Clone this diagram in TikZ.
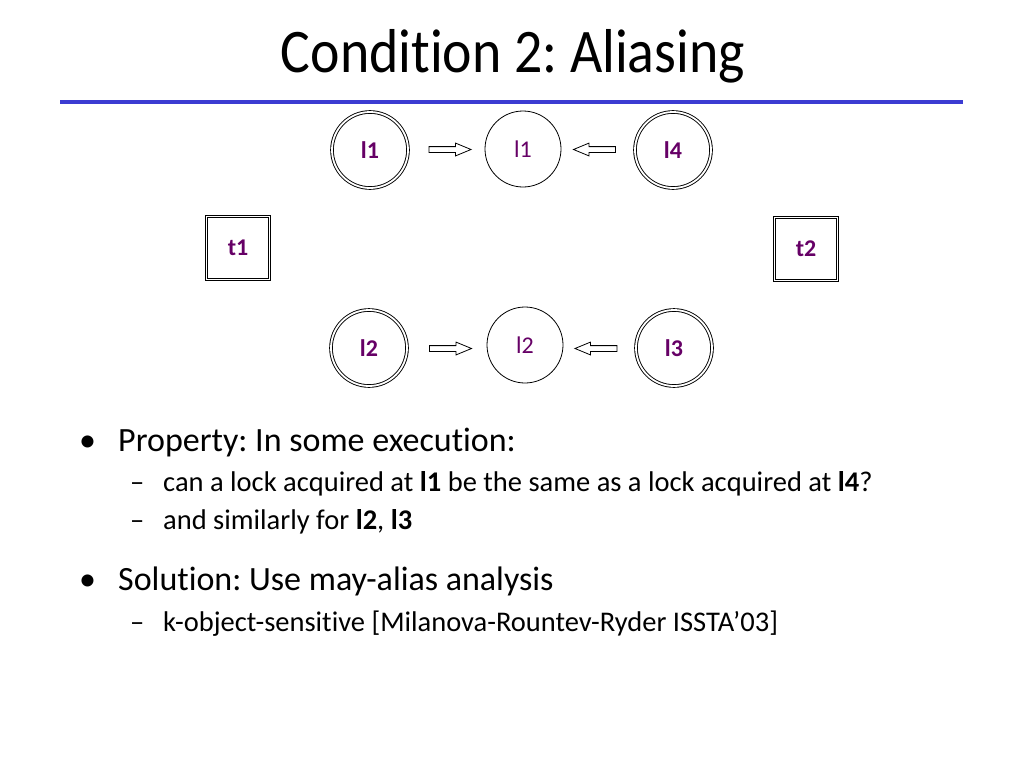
\documentclass[tikz,border=0pt]{standalone}
\usepackage{fontspec}
\setmainfont{Carlito}[Ligatures=NoCommon]
\frenchspacing
\usetikzlibrary{shapes.arrows,calc}
\definecolor{lbl}{RGB}{102,0,102}
\definecolor{rulec}{RGB}{60,60,210}
\begin{document}
\begin{tikzpicture}[x=1pt,y=-1pt,
  lblfont/.style={text=lbl,font=\fontsize{24}{28}\selectfont},
  dcirc/.style={circle,draw,double,double distance=1.8pt,line width=0.9pt,minimum size=76pt,inner sep=0pt,lblfont,font=\fontsize{24}{28}\selectfont\bfseries},
  scirc/.style={circle,draw,line width=0.8pt,minimum size=76pt,inner sep=0pt,lblfont},
  dbox/.style={rectangle,draw,double,double distance=1.8pt,line width=0.9pt,minimum size=63pt,inner sep=0pt,lblfont,font=\fontsize{24}{28}\selectfont\bfseries},
  harrow/.style={single arrow,draw,line width=0.8pt,minimum height=42pt,inner sep=2.5pt,single arrow head extend=3.5pt,single arrow tip angle=45,single arrow head indent=0pt},
  txt/.style={anchor=base west,inner sep=0pt},
  big/.style={txt,font=\fontsize{34}{40}\selectfont},
  small/.style={txt,font=\fontsize{28.5}{33}\selectfont}
]
\useasboundingbox[fill=white] (0,0) rectangle (1024,768);
% title
\node[anchor=base,inner sep=0pt,font=\fontsize{62}{70}\selectfont] (title) at (513,72) {\scalebox{0.9}[1]{Condition 2: Aliasing}};
\coordinate (rl) at (60,102);
\coordinate (rr) at (963,102);
\draw[rulec,line width=4pt] (rl) -- (rr);
% top row
\node[dcirc] (l1) at (370,150) {l1};
\node[scirc] (m1) at (523,149) {l1};
\node[dcirc] (l4) at (673,150) {l4};
\node[harrow] (a1) at ($(l1)!0.5!(m1)$) {};
\node[harrow,shape border rotate=180] (a2) at ($(m1)!0.5!(l4)$) {};
% boxes
\node[dbox] (t1) at (238,248) {t1};
\node[dbox] (t2) at (806,249) {t2};
% bottom row
\node[dcirc] (l2) at (369,348) {l2};
\node[scirc] (m2) at (525,345) {l2};
\node[dcirc] (l3) at (674,348) {l3};
\node[harrow] (a3) at ($(l2)!0.5!(m2)+(0,2)$) {};
\node[harrow,shape border rotate=180] (a4) at ($(m2)!0.5!(l3)+(0,2)$) {};
% text
\node[big] (b1) at (79,451) {\textbullet};
\node[big] (p1) at (118,451) {Property: In some execution:};
\node[small] (d1) at (130,491) {\textendash};
\node[small] (s1) at (163,491) {can a lock acquired at \textbf{l1} be the same as a lock acquired at \textbf{l4}?};
\node[small] (d2) at (130,529) {\textendash};
\node[small] (s2) at (163,529) {and similarly for \textbf{l2}, \textbf{l3}};
\node[big] (b2) at (79,590) {\textbullet};
\node[big] (p2) at (118,590) {Solution: Use may-alias analysis};
\node[small] (d3) at (130,631) {\textendash};
\node[small] (s3) at (163,631) {k-object-sensitive [Milanova-Rountev-Ryder ISSTA’03]};
\end{tikzpicture}
\end{document}
